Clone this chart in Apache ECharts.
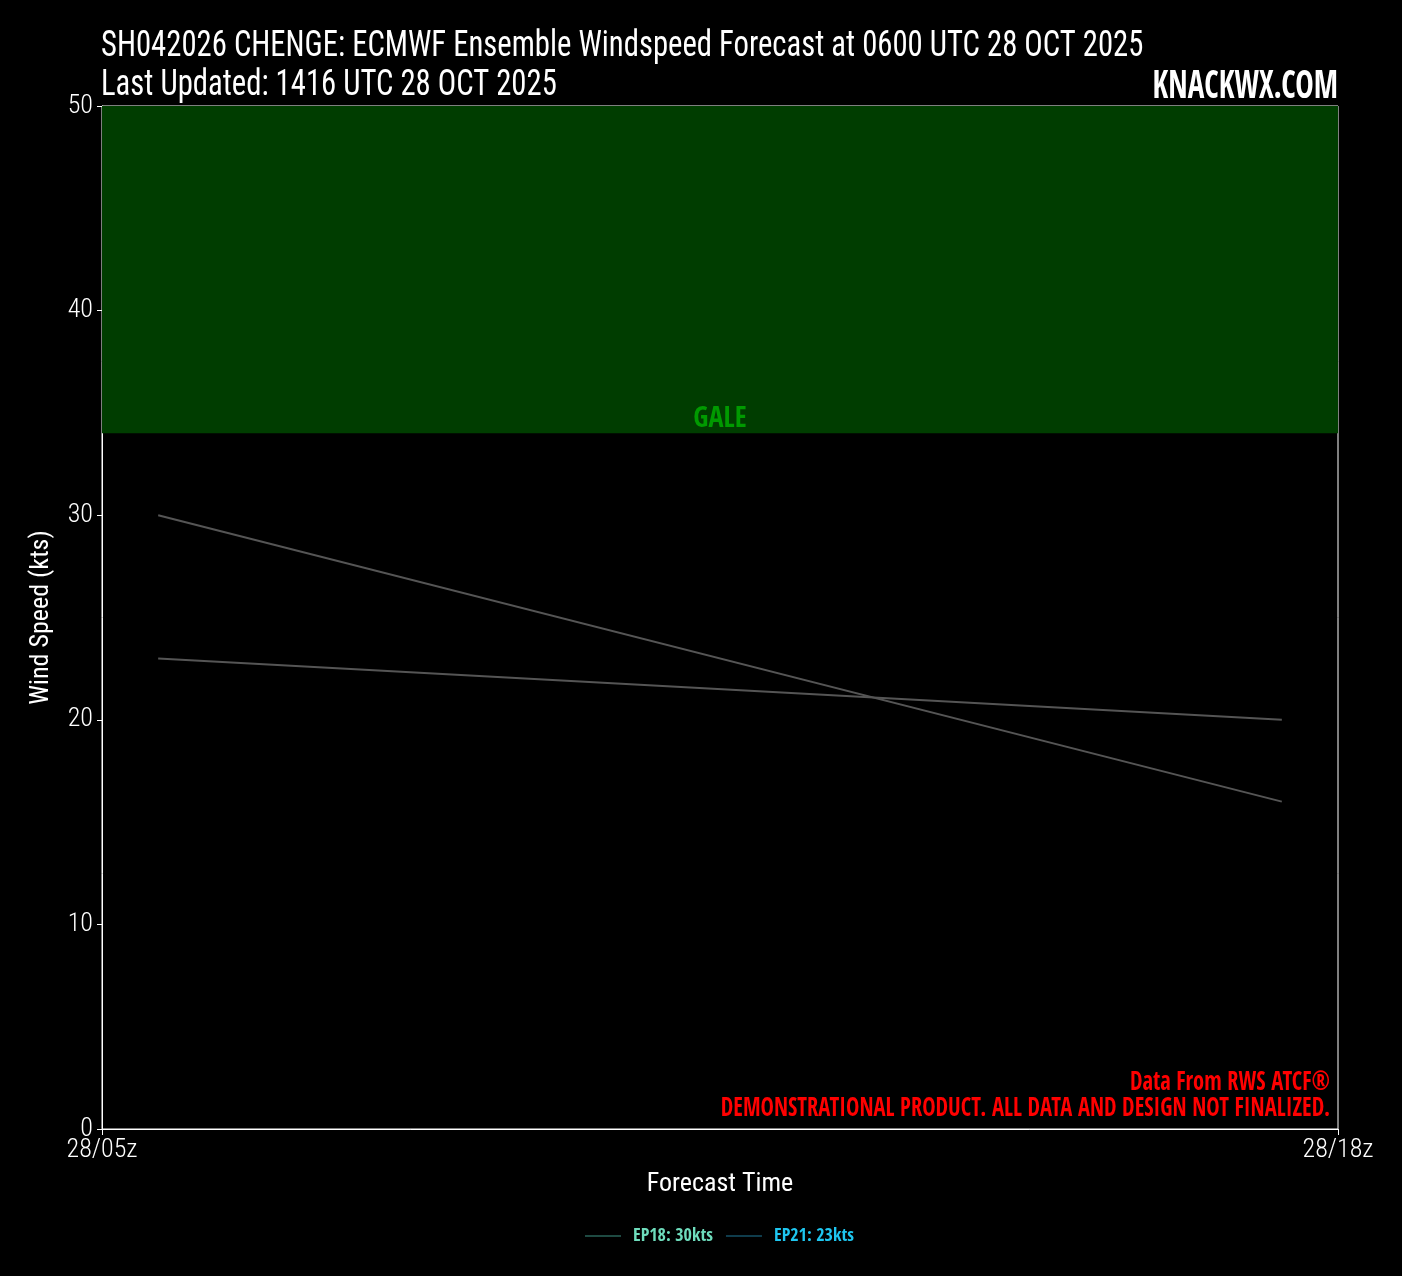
<!DOCTYPE html>
<html>
<head>
<meta charset="utf-8">
<script src="https://cdn.jsdelivr.net/npm/echarts@6/dist/echarts.min.js"></script>
<style>
html,body{margin:0;padding:0;background:#000;}
#chart{width:1402px;height:1276px;}
</style>
</head>
<body>
<div id="chart"></div>
<script>
const FONT = "'Roboto Condensed', 'DejaVu Sans Condensed', sans-serif";
const BOLD = "'Open Sans Condensed', 'Roboto Condensed', sans-serif";
const titleLines = ['SH042026 CHENGE: ECMWF Ensemble Windspeed Forecast at 0600 UTC 28 OCT 2025', 'Last Updated: 1416 UTC 28 OCT 2025'];
const hours = [6, 18];
const seriesNames = ['EP18: 30kts', 'EP21: 23kts'];
const ep18 = [30, 16];
const ep21 = [23, 20];
const xTickLabels = ['28/05z', '28/18z'];
const galeRange = [34, 50];
const legendTextColors = ['#6edcbc', '#1ec6f0'];
const legendLineColors = ['#1e4a42', '#0f3c4c'];

const chart = echarts.init(document.getElementById('chart'));
chart.setOption({
  backgroundColor: '#000',
  animation: false,
  textStyle: { fontFamily: FONT },
  grid: { left: 102, right: 64, top: 106, bottom: 147, show: true, borderColor: '#fff', borderWidth: 1, backgroundColor: 'transparent' },
  xAxis: {
    type: 'value', min: 5.4, max: 18.6, interval: 13.2,
    name: 'Forecast Time', nameLocation: 'middle', nameGap: 42,
    nameTextStyle: { color: '#fff', fontSize: 26, fontFamily: FONT },
    axisLine: { lineStyle: { color: '#fff', width: 1 } },
    axisTick: { show: true, length: 6, lineStyle: { color: '#fff' } },
    splitLine: { show: false },
    axisLabel: {
      color: '#fff', fontSize: 26, fontWeight: 300, margin: 8, fontFamily: FONT,
      formatter: function (v) { return v < 12 ? xTickLabels[0] : xTickLabels[1]; }
    }
  },
  yAxis: {
    type: 'value', min: 0, max: 50, interval: 10,
    name: 'Wind Speed (kts)', nameLocation: 'middle', nameGap: 48,
    nameTextStyle: { color: '#fff', fontSize: 26, fontFamily: FONT },
    axisLine: { show: true, lineStyle: { color: '#fff', width: 1 } },
    axisTick: { show: true, length: 5, lineStyle: { color: '#fff' } },
    splitLine: { show: false },
    axisLabel: { color: '#fff', fontSize: 26, fontWeight: 300, margin: 9, fontFamily: FONT }
  },
  legend: {
    top: 1222, left: 580, itemWidth: 36, itemHeight: 2, itemGap: 13,
    icon: 'rect',
    data: seriesNames.map((n, i) => ({
      name: n,
      itemStyle: { color: legendLineColors[i] },
      textStyle: { color: legendTextColors[i], fontSize: 18, fontWeight: 'bold', fontFamily: BOLD, padding: [0, 0, 0, 7] }
    }))
  },
  series: [
    {
      name: seriesNames[0], type: 'line', symbol: 'none',
      data: hours.map((h, i) => [h, ep18[i]]),
      lineStyle: { color: '#555', width: 2 }, itemStyle: { color: legendLineColors[0] },
      markArea: {
        silent: true,
        itemStyle: { color: '#003d00' },
        label: { show: true, position: 'insideBottom', color: '#009a00', fontSize: 28, fontWeight: 'bold', fontFamily: BOLD, distance: 0 },
        data: [[{ name: 'GALE', yAxis: galeRange[0] }, { yAxis: galeRange[1] }]]
      },
      z: 3
    },
    {
      name: seriesNames[1], type: 'line', symbol: 'none',
      data: hours.map((h, i) => [h, ep21[i]]),
      lineStyle: { color: '#555', width: 2 }, itemStyle: { color: legendLineColors[1] },
      z: 3
    }
  ],
  graphic: [
    { type: 'text', x: 101, y: 47, scaleY: 1.22, style: { x: 0, y: 0, text: titleLines[0], fill: '#fff', fontSize: 30.7, fontFamily: FONT, verticalAlign: 'middle', align: 'left' } },
    { type: 'text', x: 101, y: 86, scaleY: 1.22, style: { x: 0, y: 0, text: titleLines[1], fill: '#fff', fontSize: 30.7, fontFamily: FONT, verticalAlign: 'middle', align: 'left' } },
    { type: 'text', x: 1338, y: 88, scaleY: 1.28, style: { x: 0, y: 0, text: 'KNACKWX.COM', fill: '#fff', fontSize: 31, fontWeight: 'bold', fontFamily: BOLD, verticalAlign: 'middle', align: 'right' } },
    { type: 'text', x: 1330, y: 1083, scaleY: 1.2, style: { x: 0, y: 0, text: 'Data From RWS ATCF®', fill: '#ff0000', fontSize: 22.5, fontWeight: 'bold', fontFamily: BOLD, verticalAlign: 'middle', align: 'right' } },
    { type: 'text', x: 1330, y: 1109, scaleY: 1.2, style: { x: 0, y: 0, text: 'DEMONSTRATIONAL PRODUCT. ALL DATA AND DESIGN NOT FINALIZED.', fill: '#ff0000', fontSize: 22.5, fontWeight: 'bold', fontFamily: BOLD, verticalAlign: 'middle', align: 'right' } }
  ]
});
</script>
</body>
</html>
